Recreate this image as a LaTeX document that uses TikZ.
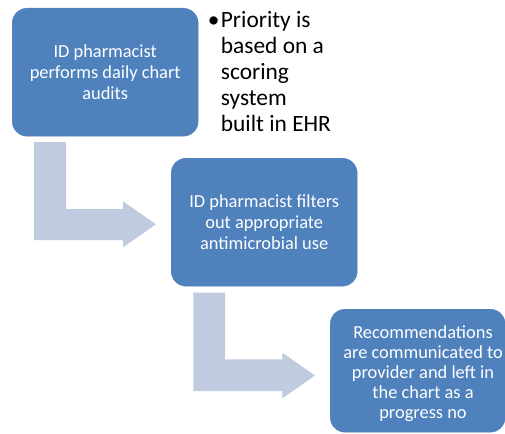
\documentclass[tikz,border=0pt]{standalone}
\usepackage{fontspec}
\setmainfont{Carlito}
\definecolor{boxblue}{RGB}{79,129,189}
\definecolor{arrowgrey}{RGB}{193,203,224}
\begin{document}
\begin{tikzpicture}[x=1pt,y=-1pt,
  stepbox/.style={fill=boxblue, draw=boxblue, rounded corners=15pt, inner sep=0pt, minimum width=186pt, minimum height=128pt, anchor=north west},
  boxtext/.style={text=white, align=center, inner sep=0pt, font=\fontsize{18.4}{21.3}\selectfont},
  bentarrow/.style={fill=arrowgrey, draw=none},
  notetext/.style={align=left, inner sep=0pt, anchor=north west, font=\fontsize{23.4}{25.85}\selectfont}]
\useasboundingbox (0,0) rectangle (505,433);
% boxes
\node[stepbox] (a) at (12,8) {};
\node[boxtext] (at) at (a.center) {ID pharmacist\\performs daily chart\\audits};
\node[stepbox] (b) at (171,158) {};
\node[boxtext] (bt) at (b.center) {ID pharmacist filters\\out appropriate\\antimicrobial use};
\node[stepbox, minimum width=175pt, minimum height=123pt] (c) at (330,309) {};
\node[boxtext, font=\fontsize{18.4}{20}\selectfont] (ct) at (423,374) {Recommendations\\are communicated to\\provider and left in\\the chart as a\\progress no};
% bent arrows
\path[bentarrow] (34,142) -- (66,142) -- (66,209) -- (123,209) -- (123,201.3)
  -- (156,224.3) -- (123,247.3) -- (123,240) -- (34,240) -- cycle;
\path[bentarrow] (193.3,292.7) -- (225,292.7) -- (225,359.3) -- (282.3,359.3) -- (282.3,352.7)
  -- (315,375.5) -- (282.3,398.3) -- (282.3,391) -- (193.3,391) -- cycle;
% note
\node[notetext] (note) at (220.7,11.4) {\llap{\textbullet\kern1.5pt}Priority is\\based on a\\scoring\\system\\built in EHR};
\end{tikzpicture}
\end{document}
